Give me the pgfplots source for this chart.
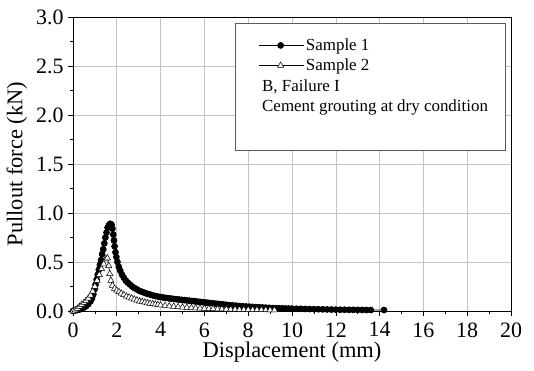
\documentclass[border=0pt]{standalone}
\usepackage{pgfplots}
\pgfplotsset{compat=1.18}
\usepackage{fontspec}
\setmainfont{Liberation Serif}
\definecolor{gridgray}{RGB}{195,195,195}
\definecolor{boxgray}{RGB}{90,90,90}
\begin{document}
\begin{tikzpicture}
\begin{axis}[
  scale only axis,
  width=438bp, height=294bp,
  xmin=0, xmax=20, ymin=0, ymax=3,
  xtick={0,2,...,20},
  ytick={0,0.5,...,3},
  minor x tick num=1,
  minor y tick num=1,
  tick pos=left,
  tick align=outside,
  major tick length=5bp,
  minor tick length=3bp,
  tick style={black, line width=0.6bp},
  grid=major,
  major grid style={gridgray, line width=0.6bp},
  axis line style={black, line width=0.8bp},
  /pgf/number format/assume math mode=true,
  yticklabel style={xshift=-1bp, /pgf/number format/.cd, fixed, fixed zerofill, precision=1},
  ticklabel style={font=\fontsize{22}{24}\selectfont},
  xticklabel style={yshift=-3bp},
  xlabel={Displacement (mm)},
  ylabel={Pullout force (kN)},
  label style={font=\fontsize{22.5}{24}\selectfont},
  xlabel style={yshift=2bp},
  ylabel style={yshift=2bp},
  legend style={draw=none, fill=none, at={(axis cs:8.45,2.80)}, anchor=north west,
    font=\fontsize{17}{19}\selectfont, row sep=3bp, inner sep=0pt,
    /tikz/every even column/.append style={column sep=1bp}},
  legend cell align=left,
  legend image code/.code={\draw[mark repeat=2,mark phase=2,#1] plot coordinates {(0bp,0bp) (22bp,0bp) (45bp,0bp)};},
]
\draw[boxgray, line width=0.8bp, fill=white] (axis cs:7.4,1.64) rectangle (axis cs:19.73,2.93);
\addplot[black, line width=0.7bp, mark=*, mark size=3bp, mark options={fill=black}] coordinates {
(0,0) (0.1,0.005) (0.2,0.01) (0.3,0.015) (0.4,0.025) (0.5,0.035) (0.6,0.05) (0.7,0.07)
(0.8,0.1) (0.87,0.13) (0.93,0.17) (0.98,0.22) (1.03,0.27) (1.08,0.32) (1.13,0.37)
(1.18,0.42) (1.23,0.47) (1.28,0.52) (1.33,0.58) (1.38,0.63) (1.43,0.69) (1.48,0.75)
(1.53,0.80) (1.58,0.85) (1.64,0.875) (1.70,0.89) (1.76,0.88) (1.80,0.84) (1.84,0.78)
(1.87,0.72) (1.90,0.66) (1.94,0.60) (1.98,0.55) (2.03,0.50) (2.09,0.45) (2.16,0.41)
(2.24,0.37) (2.32,0.34) (2.41,0.31) (2.50,0.29) (2.60,0.27) (2.70,0.25) (2.80,0.235)
(2.92,0.22) (3.04,0.205) (3.16,0.195) (3.28,0.185) (3.40,0.175) (3.52,0.168) (3.64,0.16)
(3.76,0.153) (3.88,0.147) (4.00,0.142) (4.12,0.138) (4.24,0.134) (4.36,0.130) (4.48,0.127)
(4.60,0.123) (4.72,0.120) (4.84,0.117) (4.96,0.114) (5.08,0.111) (5.20,0.108) (5.32,0.105)
(5.44,0.102) (5.56,0.099) (5.68,0.096) (5.80,0.093) (5.92,0.090) (6.04,0.087) (6.16,0.084)
(6.28,0.081) (6.40,0.078) (6.52,0.075) (6.64,0.072) (6.76,0.069) (6.88,0.066) (7.00,0.063)
(7.15,0.060) (7.30,0.057) (7.45,0.054) (7.60,0.051) (7.75,0.048) (7.90,0.046) (8.05,0.044)
(8.20,0.042) (8.35,0.040) (8.50,0.038) (8.65,0.036) (8.80,0.034) (8.95,0.032) (9.10,0.030)
(9.25,0.029) (9.40,0.028) (9.55,0.027) (9.70,0.026) (9.85,0.025) (10.0,0.024) (10.2,0.023)
(10.4,0.022) (10.6,0.021) (10.8,0.020) (11.0,0.019) (11.2,0.018) (11.4,0.017) (11.6,0.016)
(11.8,0.015) (12.0,0.014) (12.2,0.013) (12.4,0.013) (12.6,0.012) (12.8,0.012) (13.0,0.011)
(13.2,0.011) (13.4,0.010) (13.6,0.010) (14.2,0.010)
};
\addlegendentry{Sample 1}
\addplot[black, line width=0.7bp, mark=triangle*, mark size=3.6bp, mark options={fill=white, line width=0.5bp}] coordinates {
(0,0) (0.1,0.01) (0.2,0.025) (0.3,0.045) (0.4,0.065) (0.5,0.085) (0.6,0.105) (0.7,0.13)
(0.8,0.16) (0.9,0.2) (1.0,0.25) (1.1,0.31) (1.2,0.37) (1.3,0.43) (1.4,0.48) (1.5,0.53)
(1.57,0.54) (1.63,0.46) (1.68,0.38) (1.73,0.31) (1.8,0.26) (1.9,0.23) (2.0,0.21) (2.1,0.195)
(2.2,0.18) (2.32,0.165) (2.44,0.15) (2.56,0.14) (2.68,0.13) (2.8,0.12) (2.92,0.11) (3.04,0.10)
(3.16,0.095) (3.28,0.088) (3.4,0.082) (3.52,0.077) (3.64,0.072) (3.76,0.068) (3.88,0.064)
(4.0,0.06) (4.2,0.055) (4.4,0.05) (4.6,0.046) (4.8,0.042) (5.0,0.038) (5.2,0.035) (5.4,0.032)
(5.6,0.03) (5.8,0.028) (6.0,0.026) (6.2,0.024) (6.4,0.022) (6.6,0.02) (6.8,0.019) (7.0,0.018)
(7.2,0.017) (7.4,0.016) (7.6,0.015) (7.8,0.014) (8.0,0.013) (8.2,0.012) (8.4,0.012) (8.6,0.011)
(8.8,0.011) (9.0,0.01) (9.2,0.01)
};
\addlegendentry{Sample 2}
\node[anchor=west, font=\fontsize{17}{19}\selectfont, inner sep=0pt] at (axis cs:8.63,2.29) {B, Failure I};
\node[anchor=west, font=\fontsize{17}{19}\selectfont, inner sep=0pt] at (axis cs:8.63,2.08) {Cement grouting at dry condition};
\end{axis}
\path (current axis.south west) ++(-73bp,-60bp) rectangle ++(534bp,371bp);
\end{tikzpicture}
\end{document}
